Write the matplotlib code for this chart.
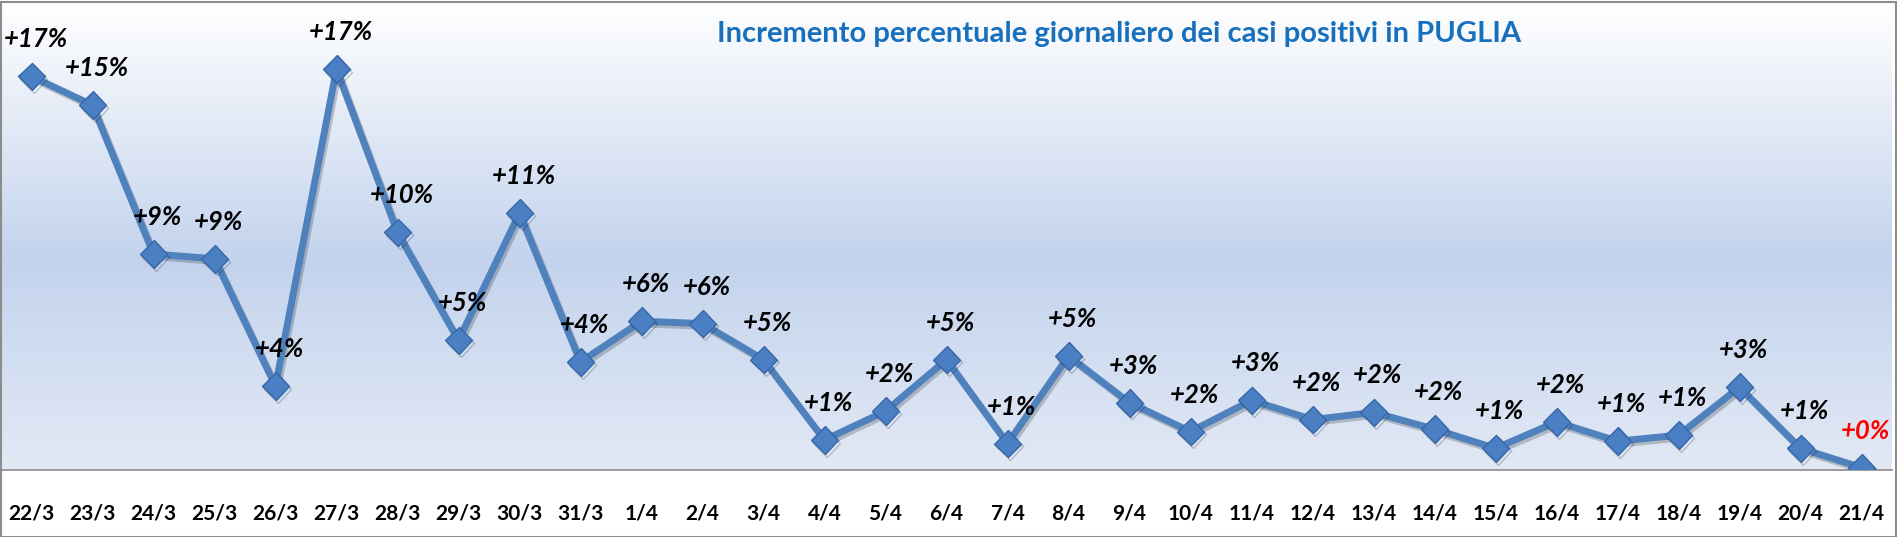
import numpy as np
import matplotlib
matplotlib.use('Agg')
import matplotlib.pyplot as plt
import matplotlib.patheffects as pe
from matplotlib.colors import LinearSegmentedColormap
from matplotlib.patches import Rectangle

# dati
giorni = ['22/3', '23/3', '24/3', '25/3', '26/3', '27/3', '28/3', '29/3', '30/3', '31/3',
          '1/4', '2/4', '3/4', '4/4', '5/4', '6/4', '7/4', '8/4', '9/4', '10/4',
          '11/4', '12/4', '13/4', '14/4', '15/4', '16/4', '17/4', '18/4', '19/4', '20/4', '21/4']
incremento = [16.4, 15.2, 9.0, 8.8, 3.5, 16.7, 9.9, 5.4, 10.7, 4.5,
              6.2, 6.1, 4.6, 1.25, 2.45, 4.6, 1.1, 4.75, 2.8, 1.6,
              2.9, 2.1, 2.4, 1.7, 0.9, 2.0, 1.2, 1.45, 3.45, 0.9, 0.1]
etichette = ['+17%', '+15%', '+9%', '+9%', '+4%', '+17%', '+10%', '+5%', '+11%', '+4%',
             '+6%', '+6%', '+5%', '+1%', '+2%', '+5%', '+1%', '+5%', '+3%', '+2%',
             '+3%', '+2%', '+2%', '+2%', '+1%', '+2%', '+1%', '+1%', '+3%', '+1%', '+0%']

W, H = 1897, 537
fig = plt.figure(figsize=(W / 100, H / 100), dpi=100)
fig.patch.set_facecolor('white')
ax = fig.add_axes([1 / W, 67 / H, 1891 / W, 468 / H])

x = np.arange(len(giorni))
ymax = 19.5
ax.set_xlim(-0.5, len(giorni) - 0.5)
ax.set_ylim(0, ymax)

# sfondo sfumato
cmap = LinearSegmentedColormap.from_list('bg', [(0, '#e2e9f5'), (0.45, '#c3d3ed'), (1, '#ffffff')])
grad = np.linspace(0, 1, 256).reshape(-1, 1)
ax.imshow(grad, cmap=cmap, origin='lower', aspect='auto',
          extent=[-0.5, len(giorni) - 0.5, 0, ymax], zorder=0)

ax.plot(x, incremento, color='#4f81bd', lw=5, marker='D', markersize=14,
        markerfacecolor='#4a7fc3', markeredgecolor='#3767a8', markeredgewidth=1,
        zorder=3, solid_joinstyle='miter',
        path_effects=[pe.SimpleLineShadow(offset=(1.5, -2), alpha=0.2), pe.Normal()])

font_lab = ['Lato', 'DejaVu Sans']
for i, (v, t) in enumerate(zip(incremento, etichette)):
    col = 'red' if i == len(giorni) - 1 else 'black'
    ax.annotate(t, (i, v), xytext=(4, 37), textcoords='offset pixels',
                ha='center', va='center', fontsize=18.5, fontweight='bold',
                fontstyle='italic', color=col, family=font_lab, zorder=4)

ax.set_xticks(x)
ax.set_xticklabels(giorni, fontsize=15, fontweight='bold', family=font_lab)
ax.tick_params(axis='x', length=0, pad=24)
ax.set_yticks([])
for s in ['top', 'left', 'right']:
    ax.spines[s].set_visible(False)
ax.spines['bottom'].set_color('#8c8c8c')
ax.spines['bottom'].set_linewidth(1.2)

fig.text(1119 / W, 1 - 34 / H, 'Incremento percentuale giornaliero dei casi positivi in PUGLIA',
         ha='center', va='center', fontsize=21, fontweight='bold', color='#1870bd',
         family=font_lab)

# cornice
fig.patches.append(Rectangle((0.5 / W, 0.5 / H), 1 - 2 / W, 1 - 2 / H, transform=fig.transFigure,
                             fill=False, edgecolor='#8c8c8c', lw=1.5))

fig.savefig('out.png', dpi=100)
